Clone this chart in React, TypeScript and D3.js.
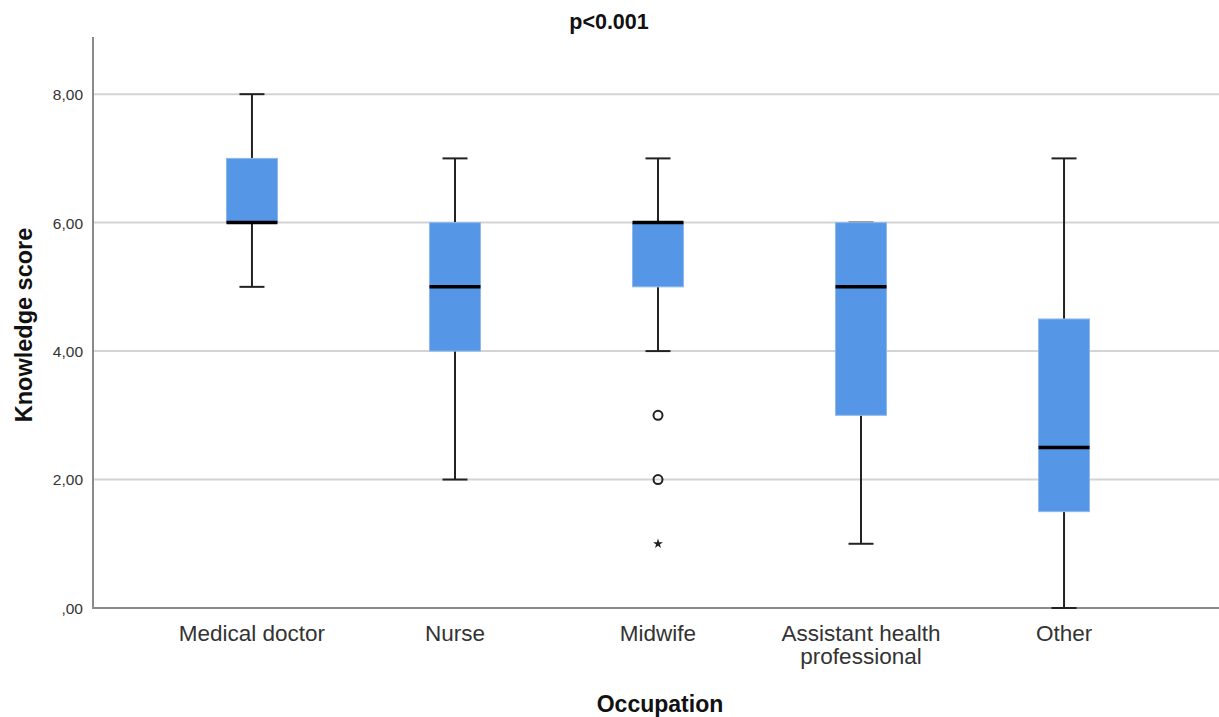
import React from "react";
import * as d3 from "d3";

const categories = ["Medical doctor", "Nurse", "Midwife", "Assistant health professional", "Other"];
const mins = [5, 2, 4, 1, 0];
const q1s = [6, 4, 5, 3, 1.5];
const medians = [6, 5, 6, 5, 2.5];
const q3s = [7, 6, 6, 6, 4.5];
const maxs = [8, 7, 7, 6, 7];
const outlierCat = ["Midwife", "Midwife"];
const outlierVals = [3, 2];
const extremeCat = ["Midwife"];
const extremeVals = [1];
const yTicks = [0, 2, 4, 6, 8];
const yTickLabels = [",00", "2,00", "4,00", "6,00", "8,00"];
const title = "p<0.001";
const xTitle = "Occupation";
const yTitle = "Knowledge score";

const W = 1219;
const H = 717;
const left = 93;
const bottom = 608;
const top = 37;

export default function App() {
  const x = d3.scalePoint<string>().domain(categories).range([left, 1223]).padding(0.783);
  const y = d3.scaleLinear().domain([0, 8.89]).range([bottom, top]);
  const boxW = 51;
  const capW = 25;
  const font = "'Liberation Sans', Arial, sans-serif";
  const star = d3.symbol().type(d3.symbolStar).size(30)();

  const wrap = (s: string) => (s === "Assistant health professional" ? ["Assistant health", "professional"] : [s]);

  return (
    <svg width={W} height={H} style={{ position: "absolute", left: 0, top: 0, background: "#fff" }} fontFamily={font}>
      <rect width={W} height={H} fill="#fff" />
      {yTicks.filter((t) => t > 0).map((t) => (
        <line key={t} x1={left} x2={W} y1={y(t)} y2={y(t)} stroke="#d3d3d3" strokeWidth={2} />
      ))}
      {yTicks.map((t, i) => (
        <text key={"yl" + t} x={left - 10} y={y(t)} dy="0.38em" textAnchor="end" fontSize={15.5} fill="#333">
          {yTickLabels[i]}
        </text>
      ))}
      <line x1={left} x2={left} y1={top} y2={bottom + 1} stroke="#8a8a8a" strokeWidth={2} />
      <line x1={left} x2={W} y1={bottom} y2={bottom} stroke="#8a8a8a" strokeWidth={2} />
      {categories.map((c, i) => {
        const cx = x(c)!;
        return (
          <g key={c}>
            <line x1={cx} x2={cx} y1={y(maxs[i])} y2={y(q3s[i])} stroke="#222" strokeWidth={2} />
            <line x1={cx} x2={cx} y1={y(q1s[i])} y2={y(mins[i])} stroke="#222" strokeWidth={2} />
            <line x1={cx - capW / 2} x2={cx + capW / 2} y1={y(maxs[i])} y2={y(maxs[i])} stroke="#222" strokeWidth={2} />
            <line x1={cx - capW / 2} x2={cx + capW / 2} y1={y(mins[i])} y2={y(mins[i])} stroke="#222" strokeWidth={2} />
            <rect
              x={cx - boxW / 2}
              y={y(q3s[i])}
              width={boxW}
              height={y(q1s[i]) - y(q3s[i])}
              fill="#5596e6"
              stroke="#8fb8ee"
              strokeWidth={1}
            />
            <line x1={cx - boxW / 2} x2={cx + boxW / 2} y1={y(medians[i])} y2={y(medians[i])} stroke="#000" strokeWidth={3.5} />
            {wrap(c).map((ln, j) => (
              <text key={ln} x={cx} y={641 + j * 23} textAnchor="middle" fontSize={22.5} fill="#333">
                {ln}
              </text>
            ))}
          </g>
        );
      })}
      {outlierVals.map((v, i) => (
        <circle key={"o" + i} cx={x(outlierCat[i])!} cy={y(v)} r={4.5} fill="none" stroke="#222" strokeWidth={2} />
      ))}
      {extremeVals.map((v, i) => (
        <path key={"e" + i} d={star!} transform={`translate(${x(extremeCat[i])!},${y(v)})`} fill="#222" />
      ))}
      <text x={609} y={29} textAnchor="middle" fontSize={21.5} fontWeight="bold" fill="#111">
        {title}
      </text>
      <text x={660} y={712} textAnchor="middle" fontSize={23} fontWeight="bold" fill="#111">
        {xTitle}
      </text>
      <text
        transform={`translate(32, 325) rotate(-90)`}
        textAnchor="middle"
        fontSize={23.5}
        fontWeight="bold"
        fill="#111"
      >
        {yTitle}
      </text>
    </svg>
  );
}
